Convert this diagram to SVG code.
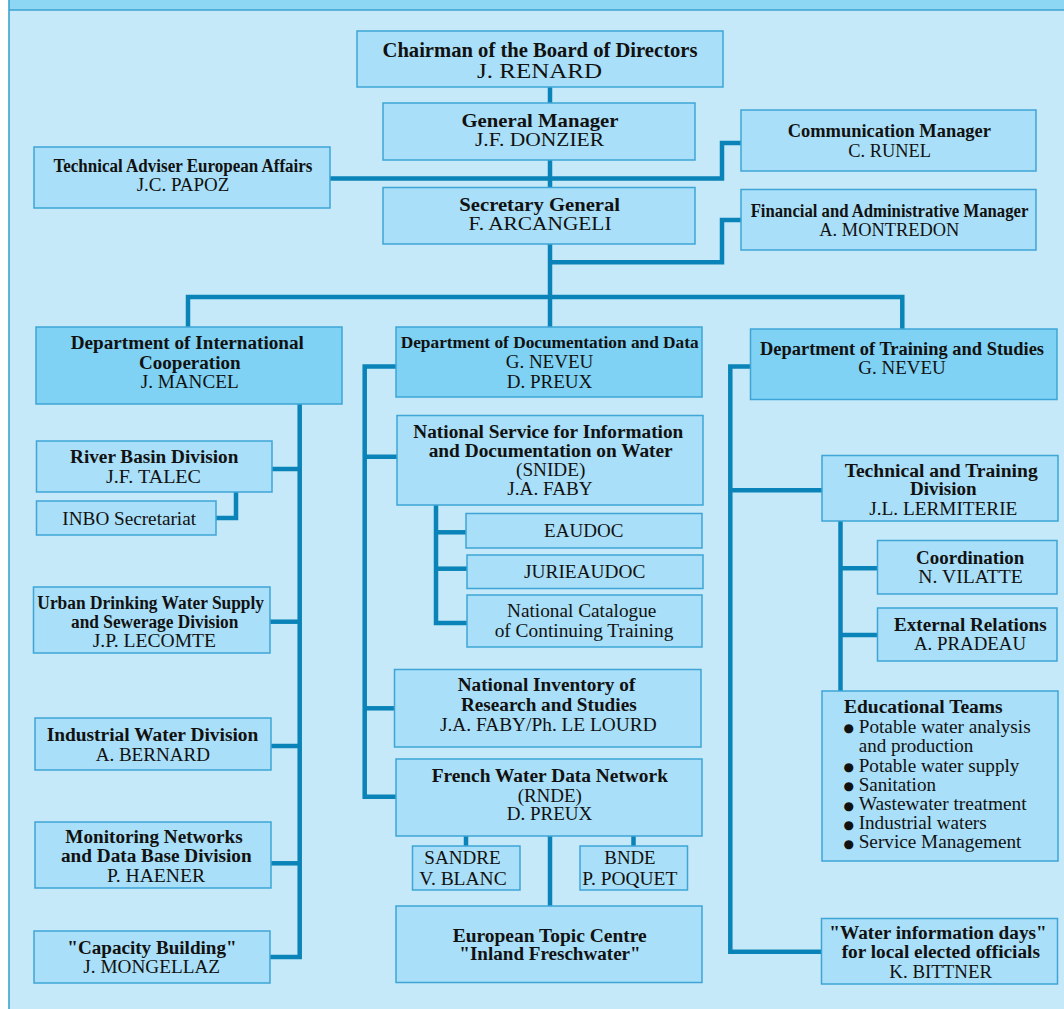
<svg xmlns="http://www.w3.org/2000/svg" width="1064" height="1009" viewBox="0 0 1064 1009">
<style>
.bg{fill:#c6e9f9}
.band{fill:#8dd6f4}
.frame{fill:none;stroke:#3ea2d2;stroke-width:1.6}
.box{fill:#a9dff8;stroke:#3ea5d6;stroke-width:1.5}
.dept{fill:#7fd2f4;stroke:#3ea5d6;stroke-width:1.5}
.con{fill:none;stroke:#0a83b8;stroke-width:4.5;stroke-linejoin:miter;stroke-linecap:butt}
text{font-family:"Liberation Serif","Times New Roman",serif;fill:#111;text-anchor:middle;font-size:19px}
.b{font-weight:bold;font-size:18.5px}
.big{font-size:21px}
.mid{font-size:19px}
.l{text-anchor:start}
.dot{font-family:"DejaVu Sans","Liberation Sans",sans-serif;font-size:12px;text-anchor:start}
</style>
<rect x="0" y="0" width="1064" height="1009" fill="#ffffff"/>
<rect class="bg" x="9" y="10" width="1060" height="1005"/>
<rect class="band" x="9" y="0" width="1060" height="10"/>
<path class="frame" d="M9 0 V1009 M9 10 H1064"/>

<g id="connectors">
<path class="con" d="M550 87 V103"/>
<path class="con" d="M550 160 V187.5"/>
<path class="con" d="M330 178.5 H722 V143 H741"/>
<path class="con" d="M550 244 V297"/>
<path class="con" d="M550 262.3 H722 V220 H741"/>
<path class="con" d="M188 327 V297 H902.3 V329"/>
<path class="con" d="M550 297 V327"/>
<path class="con" d="M299.7 404 V957 H270"/>
<path class="con" d="M272 469 H299.7"/>
<path class="con" d="M236 492 V518 H216"/>
<path class="con" d="M270 621.7 H299.7"/>
<path class="con" d="M271 746 H299.7"/>
<path class="con" d="M271 863.3 H299.7"/>
<path class="con" d="M396 366.5 H364.7 V796.7 H396"/>
<path class="con" d="M364.7 456.7 H397"/>
<path class="con" d="M364.7 708.3 H394.5"/>
<path class="con" d="M436 505 V623 H467"/>
<path class="con" d="M436 532.3 H466"/>
<path class="con" d="M436 568.7 H467"/>
<path class="con" d="M466 836 V846"/>
<path class="con" d="M633.5 836 V846"/>
<path class="con" d="M550 836 V906"/>
<path class="con" d="M750.5 366.5 H730.3 V951.7 H821.5"/>
<path class="con" d="M730.3 490.3 H822"/>
<path class="con" d="M840.5 521 V691"/>
<path class="con" d="M840.5 568.3 H877.5"/>
<path class="con" d="M840.5 635 H877.5"/>
</g>

<g id="chairman">
<rect class="box" x="357" y="31" width="366" height="56"/>
<text class="b big" x="540" y="56.5" textLength="315" lengthAdjust="spacingAndGlyphs">Chairman of the Board of Directors</text>
<text class="big" x="539.5" y="78" textLength="125" lengthAdjust="spacingAndGlyphs">J. RENARD</text>
</g>
<g id="general-manager">
<rect class="box" x="383" y="103" width="312" height="57"/>
<text class="b mid" x="540" y="126.5" textLength="157" lengthAdjust="spacingAndGlyphs">General Manager</text>
<text class="mid" x="539.5" y="146" textLength="129" lengthAdjust="spacingAndGlyphs">J.F. DONZIER</text>
</g>
<g id="technical-adviser">
<rect class="box" x="34" y="147" width="296" height="61"/>
<text class="b" x="183" y="172" textLength="259" lengthAdjust="spacingAndGlyphs">Technical Adviser European Affairs</text>
<text x="183" y="191" textLength="92.7" lengthAdjust="spacingAndGlyphs">J.C. PAPOZ</text>
</g>
<g id="secretary-general">
<rect class="box" x="383" y="187.5" width="312" height="56.5"/>
<text class="b mid" x="539.7" y="210.5" textLength="160.7" lengthAdjust="spacingAndGlyphs">Secretary General</text>
<text class="mid" x="540" y="230" textLength="143" lengthAdjust="spacingAndGlyphs">F. ARCANGELI</text>
</g>
<g id="communication-manager">
<rect class="box" x="741" y="110" width="295" height="61"/>
<text class="b mid" x="889.3" y="137" textLength="203.3" lengthAdjust="spacingAndGlyphs">Communication Manager</text>
<text class="mid" x="889.7" y="157" textLength="82.7" lengthAdjust="spacingAndGlyphs">C. RUNEL</text>
</g>
<g id="financial-manager">
<rect class="box" x="741" y="189.5" width="295" height="60.5"/>
<text class="b" x="889.5" y="217" style="font-size:18px" textLength="277.7" lengthAdjust="spacingAndGlyphs">Financial and Administrative Manager</text>
<text x="889.3" y="236" textLength="140" lengthAdjust="spacingAndGlyphs">A. MONTREDON</text>
</g>

<g id="dept-international">
<rect class="dept" x="36" y="327" width="306" height="77"/>
<text class="b" x="187.3" y="349.3" textLength="233.3" lengthAdjust="spacingAndGlyphs">Department of International</text>
<text class="b" x="189.8" y="369" textLength="101.7" lengthAdjust="spacingAndGlyphs">Cooperation</text>
<text x="189.7" y="388" textLength="98" lengthAdjust="spacingAndGlyphs">J. MANCEL</text>
</g>
<g id="dept-documentation">
<rect class="dept" x="396" y="327" width="306" height="70"/>
<text class="b" x="549.7" y="348.3" style="font-size:17px" textLength="298" lengthAdjust="spacingAndGlyphs">Department of Documentation and Data</text>
<text x="549.5" y="368.3" textLength="87.7" lengthAdjust="spacingAndGlyphs">G. NEVEU</text>
<text x="549.5" y="387.7" textLength="85.7" lengthAdjust="spacingAndGlyphs">D. PREUX</text>
</g>
<g id="dept-training">
<rect class="dept" x="750.5" y="329" width="306.5" height="70.5"/>
<text class="b" x="902" y="355" textLength="284" lengthAdjust="spacingAndGlyphs">Department of Training and Studies</text>
<text x="902" y="374" textLength="87.3" lengthAdjust="spacingAndGlyphs">G. NEVEU</text>
</g>

<g id="river-basin">
<rect class="box" x="36.5" y="441" width="235.5" height="51"/>
<text class="b" x="154.2" y="463.3" textLength="168.3" lengthAdjust="spacingAndGlyphs">River Basin Division</text>
<text x="153.5" y="483" textLength="95" lengthAdjust="spacingAndGlyphs">J.F. TALEC</text>
</g>
<g id="inbo">
<rect class="box" x="36.5" y="501" width="179.5" height="34"/>
<text x="129.2" y="525" textLength="133.7" lengthAdjust="spacingAndGlyphs">INBO Secretariat</text>
</g>
<g id="urban">
<rect class="box" x="33.5" y="587" width="236.5" height="66"/>
<text class="b" x="150.7" y="609.3" textLength="226.7" lengthAdjust="spacingAndGlyphs">Urban Drinking Water Supply</text>
<text class="b" x="154.7" y="628" textLength="167.3" lengthAdjust="spacingAndGlyphs">and Sewerage Division</text>
<text x="154.3" y="646.5" textLength="123.3" lengthAdjust="spacingAndGlyphs">J.P. LECOMTE</text>
</g>
<g id="industrial">
<rect class="box" x="35" y="718" width="236" height="52"/>
<text class="b" x="152.5" y="740.7" textLength="211.7" lengthAdjust="spacingAndGlyphs">Industrial Water Division</text>
<text x="152.8" y="760.7" textLength="114.3" lengthAdjust="spacingAndGlyphs">A. BERNARD</text>
</g>
<g id="monitoring">
<rect class="box" x="35" y="822" width="236" height="66"/>
<text class="b" x="154" y="842.7" textLength="177.3" lengthAdjust="spacingAndGlyphs">Monitoring Networks</text>
<text class="b" x="156.3" y="861.7" textLength="190.7" lengthAdjust="spacingAndGlyphs">and Data Base Division</text>
<text x="156" y="881.7" textLength="98" lengthAdjust="spacingAndGlyphs">P. HAENER</text>
</g>
<g id="capacity">
<rect class="box" x="34" y="931" width="236" height="52"/>
<text class="b" x="152" y="954" textLength="169.3" lengthAdjust="spacingAndGlyphs">"Capacity Building"</text>
<text x="151.7" y="973.3" textLength="136.7" lengthAdjust="spacingAndGlyphs">J. MONGELLAZ</text>
</g>

<g id="snide">
<rect class="box" x="397" y="415.5" width="306" height="89.5"/>
<text class="b" x="548.3" y="438.3" textLength="270" lengthAdjust="spacingAndGlyphs">National Service for Information</text>
<text class="b" x="550.7" y="456.7" textLength="244" lengthAdjust="spacingAndGlyphs">and Documentation on Water</text>
<text x="550.7" y="475.7" textLength="69.3" lengthAdjust="spacingAndGlyphs">(SNIDE)</text>
<text x="550" y="495" textLength="85.3" lengthAdjust="spacingAndGlyphs">J.A. FABY</text>
</g>
<g id="eaudoc">
<rect class="box" x="466" y="513.5" width="236" height="34.5"/>
<text x="583.7" y="536.7" textLength="79.3" lengthAdjust="spacingAndGlyphs">EAUDOC</text>
</g>
<g id="jurieaudoc">
<rect class="box" x="467" y="555" width="236" height="33.5"/>
<text x="584.7" y="578.3" textLength="121.3" lengthAdjust="spacingAndGlyphs">JURIEAUDOC</text>
</g>
<g id="catalogue">
<rect class="box" x="467" y="595" width="235" height="52"/>
<text x="581.7" y="617.3" textLength="149.3" lengthAdjust="spacingAndGlyphs">National Catalogue</text>
<text x="584" y="636.7" textLength="178.7" lengthAdjust="spacingAndGlyphs">of Continuing Training</text>
</g>
<g id="inventory">
<rect class="box" x="394.5" y="669.5" width="306.5" height="77.5"/>
<text class="b" x="546.5" y="691" textLength="177.7" lengthAdjust="spacingAndGlyphs">National Inventory of</text>
<text class="b" x="548.8" y="711" textLength="175.7" lengthAdjust="spacingAndGlyphs">Research and Studies</text>
<text x="548.3" y="730.7" textLength="216.7" lengthAdjust="spacingAndGlyphs">J.A. FABY/Ph. LE LOURD</text>
</g>
<g id="rnde">
<rect class="box" x="396" y="759" width="306" height="77"/>
<text class="b" x="549.8" y="781.7" textLength="236.3" lengthAdjust="spacingAndGlyphs">French Water Data Network</text>
<text x="549.8" y="801.7" textLength="64.3" lengthAdjust="spacingAndGlyphs">(RNDE)</text>
<text x="549.5" y="820" textLength="85.7" lengthAdjust="spacingAndGlyphs">D. PREUX</text>
</g>
<g id="sandre">
<rect class="box" x="412.5" y="846" width="107.5" height="44"/>
<text x="462.5" y="864.3" textLength="76.3" lengthAdjust="spacingAndGlyphs">SANDRE</text>
<text x="463" y="885" textLength="87.3" lengthAdjust="spacingAndGlyphs">V. BLANC</text>
</g>
<g id="bnde">
<rect class="box" x="580" y="846" width="107.5" height="44"/>
<text x="630" y="864.3" textLength="51.3" lengthAdjust="spacingAndGlyphs">BNDE</text>
<text x="629.8" y="885" textLength="95" lengthAdjust="spacingAndGlyphs">P. POQUET</text>
</g>
<g id="topic-centre">
<rect class="box" x="396" y="906" width="306" height="76.5"/>
<text class="b" x="549.7" y="941.7" textLength="194" lengthAdjust="spacingAndGlyphs">European Topic Centre</text>
<text class="b" x="550" y="960" textLength="181.3" lengthAdjust="spacingAndGlyphs">"Inland Freschwater"</text>
</g>

<g id="technical-training">
<rect class="box" x="822" y="455.5" width="236" height="65.5"/>
<text class="b" x="941.2" y="476.7" textLength="193" lengthAdjust="spacingAndGlyphs">Technical and Training</text>
<text class="b" x="943.3" y="495" textLength="66.7" lengthAdjust="spacingAndGlyphs">Division</text>
<text x="943.3" y="515" textLength="148" lengthAdjust="spacingAndGlyphs">J.L. LERMITERIE</text>
</g>
<g id="coordination">
<rect class="box" x="877.5" y="540.5" width="179.5" height="53.5"/>
<text class="b" x="970.2" y="564" textLength="108.3" lengthAdjust="spacingAndGlyphs">Coordination</text>
<text x="970.5" y="582.7" textLength="104.3" lengthAdjust="spacingAndGlyphs">N. VILATTE</text>
</g>
<g id="external-relations">
<rect class="box" x="877.5" y="608" width="179.5" height="53"/>
<text class="b" x="970.3" y="630.7" textLength="152.7" lengthAdjust="spacingAndGlyphs">External Relations</text>
<text x="970" y="650" textLength="112" lengthAdjust="spacingAndGlyphs">A. PRADEAU</text>
</g>
<g id="educational-teams">
<rect class="box" x="822" y="691" width="236" height="170"/>
<text class="b l" x="844" y="713.3" textLength="158.7" lengthAdjust="spacingAndGlyphs">Educational Teams</text>
<text class="dot" x="843.5" y="732.2">●</text>
<text class="l" x="858.7" y="732.7" textLength="172" lengthAdjust="spacingAndGlyphs">Potable water analysis</text>
<text class="l" x="858.7" y="751.7" textLength="114.7" lengthAdjust="spacingAndGlyphs">and production</text>
<text class="dot" x="843.5" y="771.2">●</text>
<text class="l" x="858.7" y="771.7" textLength="160.7" lengthAdjust="spacingAndGlyphs">Potable water supply</text>
<text class="dot" x="843.5" y="790.2">●</text>
<text class="l" x="858.7" y="790.7" textLength="77.3" lengthAdjust="spacingAndGlyphs">Sanitation</text>
<text class="dot" x="843.5" y="809.5">●</text>
<text class="l" x="858.7" y="810" textLength="168" lengthAdjust="spacingAndGlyphs">Wastewater treatment</text>
<text class="dot" x="843.5" y="828.8">●</text>
<text class="l" x="858.7" y="829.3" textLength="128" lengthAdjust="spacingAndGlyphs">Industrial waters</text>
<text class="dot" x="843.5" y="847.8">●</text>
<text class="l" x="858.7" y="848.3" textLength="162.7" lengthAdjust="spacingAndGlyphs">Service Management</text>
</g>
<g id="water-information-days">
<rect class="box" x="821.5" y="918.5" width="236" height="65.5"/>
<text class="b" x="938" y="939" textLength="217.3" lengthAdjust="spacingAndGlyphs">"Water information days"</text>
<text class="b" x="940.8" y="958.3" textLength="198.3" lengthAdjust="spacingAndGlyphs">for local elected officials</text>
<text x="940.7" y="977.7" textLength="102.7" lengthAdjust="spacingAndGlyphs">K. BITTNER</text>
</g>
</svg>
